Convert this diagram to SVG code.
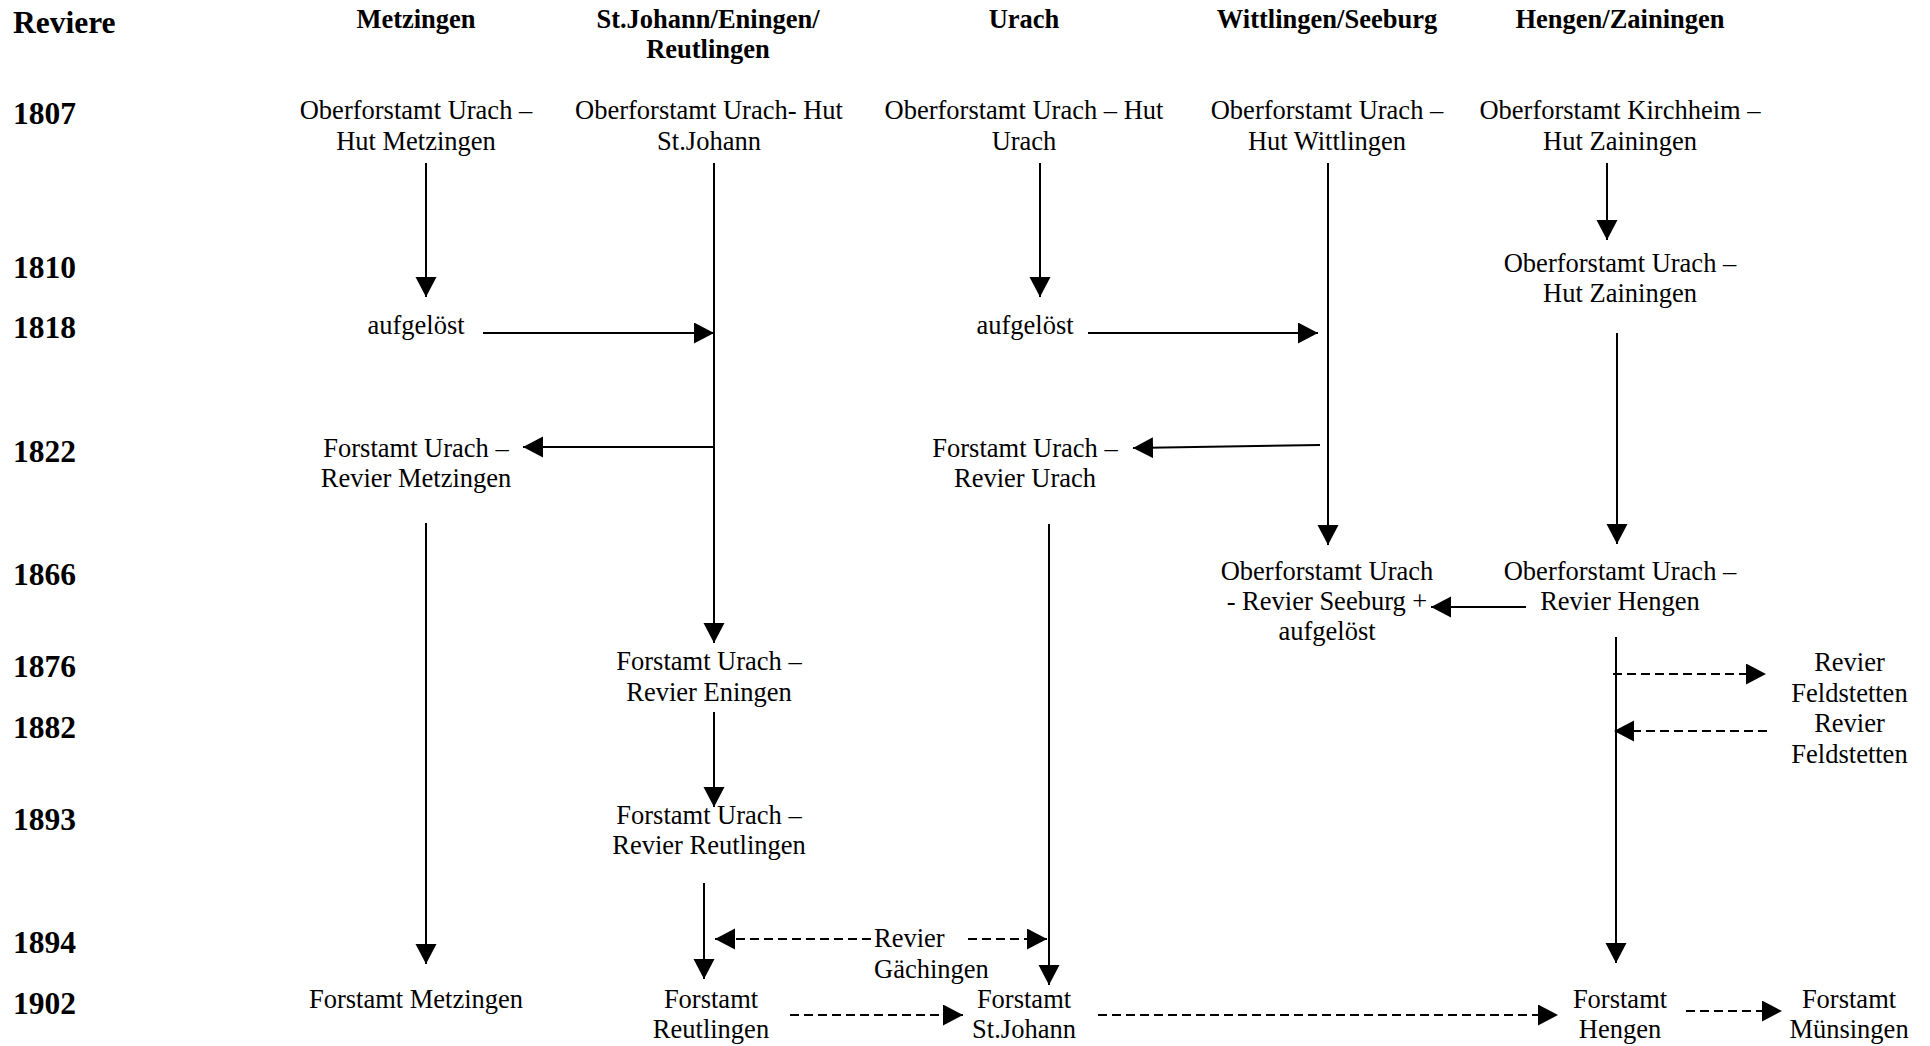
<svg xmlns="http://www.w3.org/2000/svg" width="1930" height="1046" viewBox="0 0 1930 1046">
<style>
text{font-family:"Liberation Serif","Times New Roman",serif;fill:#000}
.b{font-size:26.5px;text-anchor:middle}
.h{font-size:26.5px;font-weight:bold;text-anchor:middle}
.y{font-size:31.5px;font-weight:bold}
.c line{stroke:#000;stroke-width:2;marker-end:url(#ah)}
.c line.d{stroke-dasharray:9 5;stroke-width:1.8}
</style>
<defs>
<marker id="ah" markerUnits="userSpaceOnUse" markerWidth="21" markerHeight="22" refX="20" refY="10.5" orient="auto"><path d="M0,0 L20,10.5 L0,21 z" fill="#000"/></marker>
</defs>
<rect width="1930" height="1046" fill="#fff"/>
<g id="headers">
<text class="y" x="13" y="33">Reviere</text>
<text class="h" x="416" y="28">Metzingen</text>
<text class="h" x="708" y="28">St.Johann/Eningen/</text>
<text class="h" x="708" y="58">Reutlingen</text>
<text class="h" x="1024" y="28">Urach</text>
<text class="h" x="1327" y="28">Wittlingen/Seeburg</text>
<text class="h" x="1620" y="28">Hengen/Zainingen</text>
</g>
<g id="years">
<text class="y" x="13" y="124">1807</text>
<text class="y" x="13" y="278">1810</text>
<text class="y" x="13" y="338">1818</text>
<text class="y" x="13" y="462">1822</text>
<text class="y" x="13" y="585">1866</text>
<text class="y" x="13" y="677">1876</text>
<text class="y" x="13" y="738">1882</text>
<text class="y" x="13" y="830">1893</text>
<text class="y" x="13" y="953">1894</text>
<text class="y" x="13" y="1014">1902</text>
</g>
<g id="n1807-metzingen"><text class="b" x="416" y="119">Oberforstamt Urach –</text><text class="b" x="416" y="149.5">Hut Metzingen</text></g>
<g id="n1807-stjohann"><text class="b" x="709" y="119">Oberforstamt Urach- Hut</text><text class="b" x="709" y="149.5">St.Johann</text></g>
<g id="n1807-urach"><text class="b" x="1024" y="119">Oberforstamt Urach – Hut</text><text class="b" x="1024" y="149.5">Urach</text></g>
<g id="n1807-wittlingen"><text class="b" x="1327" y="119">Oberforstamt Urach –</text><text class="b" x="1327" y="149.5">Hut Wittlingen</text></g>
<g id="n1807-zainingen"><text class="b" x="1620" y="119">Oberforstamt Kirchheim –</text><text class="b" x="1620" y="149.5">Hut Zainingen</text></g>
<g id="n1810-zainingen"><text class="b" x="1620" y="272">Oberforstamt Urach –</text><text class="b" x="1620" y="302">Hut Zainingen</text></g>
<g id="n1818-metzingen"><text class="b" x="416" y="334">aufgelöst</text></g>
<g id="n1818-urach"><text class="b" x="1025" y="334">aufgelöst</text></g>
<g id="n1822-metzingen"><text class="b" x="416" y="457">Forstamt Urach –</text><text class="b" x="416" y="487">Revier Metzingen</text></g>
<g id="n1822-urach"><text class="b" x="1025" y="457">Forstamt Urach –</text><text class="b" x="1025" y="487">Revier Urach</text></g>
<g id="n1866-seeburg"><text class="b" x="1327" y="580">Oberforstamt Urach</text><text class="b" x="1327" y="610">- Revier Seeburg +</text><text class="b" x="1327" y="640">aufgelöst</text></g>
<g id="n1866-hengen"><text class="b" x="1620" y="580">Oberforstamt Urach –</text><text class="b" x="1620" y="610">Revier Hengen</text></g>
<g id="n1876-eningen"><text class="b" x="709" y="670">Forstamt Urach –</text><text class="b" x="709" y="701">Revier Eningen</text></g>
<g id="n1876-feldstetten"><text class="b" x="1849.5" y="671">Revier</text><text class="b" x="1849.5" y="702">Feldstetten</text></g>
<g id="n1882-feldstetten"><text class="b" x="1849.5" y="732">Revier</text><text class="b" x="1849.5" y="763">Feldstetten</text></g>
<g id="n1893-reutlingen"><text class="b" x="709" y="824">Forstamt Urach –</text><text class="b" x="709" y="854">Revier Reutlingen</text></g>
<g id="n1894-gaechingen"><text x="874" y="947" style="font-size:26.5px">Revier</text><text x="874" y="978" style="font-size:26.5px">Gächingen</text></g>
<g id="n1902-metzingen"><text class="b" x="416" y="1008">Forstamt Metzingen</text></g>
<g id="n1902-reutlingen"><text class="b" x="711" y="1008">Forstamt</text><text class="b" x="711" y="1038">Reutlingen</text></g>
<g id="n1902-stjohann"><text class="b" x="1024" y="1008">Forstamt</text><text class="b" x="1024" y="1038">St.Johann</text></g>
<g id="n1902-hengen"><text class="b" x="1620" y="1008">Forstamt</text><text class="b" x="1620" y="1038">Hengen</text></g>
<g id="n1902-muensingen"><text class="b" x="1849" y="1008">Forstamt</text><text class="b" x="1849" y="1038">Münsingen</text></g>
<g id="connectors" class="c">
<line x1="426" y1="163" x2="426" y2="297"/>
<line x1="714" y1="163" x2="714" y2="643"/>
<line x1="1040" y1="163" x2="1040" y2="297"/>
<line x1="1328" y1="163" x2="1328" y2="545"/>
<line x1="1607" y1="163" x2="1607" y2="240"/>
<line x1="483" y1="333" x2="714" y2="333"/>
<line x1="1088" y1="333" x2="1318" y2="333"/>
<line x1="714" y1="447" x2="523" y2="447"/>
<line x1="1320" y1="445" x2="1133" y2="448"/>
<line x1="1617" y1="333" x2="1617" y2="544"/>
<line x1="1526" y1="607" x2="1431" y2="607"/>
<line x1="426" y1="523" x2="426" y2="964"/>
<line x1="1049" y1="524" x2="1049" y2="985"/>
<line x1="1616" y1="637" x2="1616" y2="963"/>
<line class="d" x1="1613" y1="674" x2="1766" y2="674"/>
<line class="d" x1="1767" y1="731" x2="1614" y2="731"/>
<line x1="714" y1="712" x2="714" y2="807"/>
<line x1="704" y1="883" x2="704" y2="979"/>
<line class="d" x1="871" y1="939" x2="715" y2="939"/>
<line class="d" x1="968" y1="939" x2="1047" y2="939"/>
<line class="d" x1="790" y1="1015" x2="963" y2="1015"/>
<line class="d" x1="1098" y1="1015" x2="1558" y2="1015"/>
<line class="d" x1="1686" y1="1011" x2="1782" y2="1011"/>
</g>
</svg>
